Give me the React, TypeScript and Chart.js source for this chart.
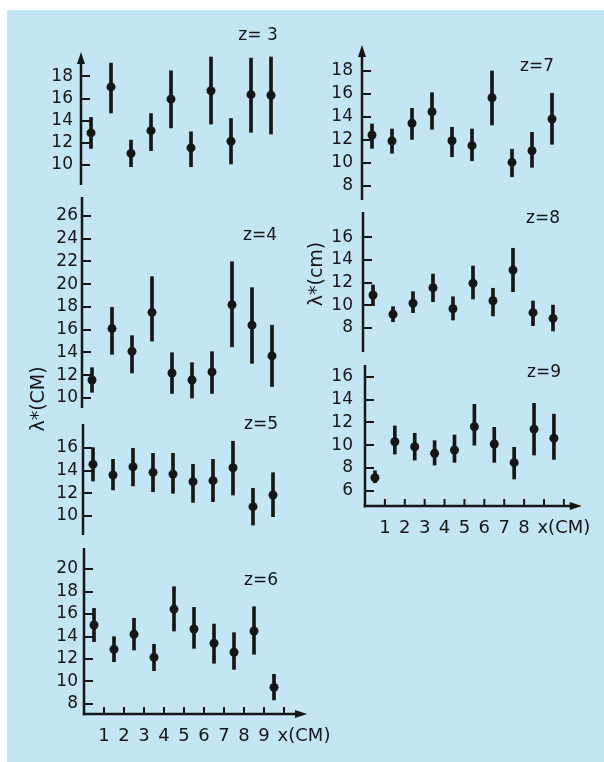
import React, { useEffect, useRef } from 'react';
import { Chart, registerables } from 'chart.js';

Chart.register(...registerables);

const INK = '#161616';
const FONT = '"DejaVu Sans", "Liberation Sans", sans-serif';
const BG = '#c4e5f4';

// x positions of the ten measurement columns (between the x ticks)
const X_POS = [0.5, 1.5, 2.5, 3.5, 4.5, 5.5, 6.5, 7.5, 8.5, 9.5];

// z = 3
const Z3_VAL = [12.9, 17.05, 11.05, 13.1, 15.95, 11.55, 16.7, 12.15, 16.35, 16.3];
const Z3_LO = [11.5, 14.7, 9.85, 11.3, 13.35, 9.85, 13.7, 10.1, 12.95, 12.8];
const Z3_HI = [14.3, 19.2, 12.25, 14.65, 18.5, 13.0, 19.75, 14.2, 19.65, 19.75];
// z = 4
const Z4_VAL = [11.58, 16.1, 14.1, 17.53, 12.2, 11.58, 12.29, 18.2, 16.4, 13.7];
const Z4_LO = [10.5, 13.84, 12.2, 15.0, 10.4, 10.0, 10.4, 14.5, 13.05, 11.0];
const Z4_HI = [12.66, 17.97, 15.48, 20.66, 13.98, 13.1, 14.07, 21.98, 19.7, 16.4];
// z = 5
const Z5_VAL = [14.56, 13.62, 14.35, 13.85, 13.7, 13.03, 13.12, 14.26, 10.82, 11.85];
const Z5_LO = [13.09, 12.3, 12.65, 12.14, 12.0, 11.2, 11.26, 11.85, 9.2, 9.94];
const Z5_HI = [16.03, 15.0, 15.97, 15.53, 15.53, 14.56, 15.0, 16.6, 12.44, 13.82];
// z = 6
const Z6_VAL = [15.02, 12.86, 14.2, 12.15, 16.44, 14.67, 13.4, 12.6, 14.49, 9.48];
const Z6_LO = [13.54, 11.76, 12.8, 10.96, 14.49, 12.95, 11.62, 11.08, 12.42, 8.36];
const Z6_HI = [16.5, 13.98, 15.62, 13.31, 18.43, 16.59, 15.11, 14.34, 16.65, 10.64];
// z = 7
const Z7_VAL = [12.41, 11.89, 13.43, 14.43, 11.91, 11.48, 15.65, 10.03, 11.04, 13.8];
const Z7_LO = [11.25, 10.82, 12.03, 12.9, 10.52, 10.17, 13.28, 8.78, 9.6, 11.6];
const Z7_HI = [13.37, 12.93, 14.73, 16.09, 13.08, 12.93, 17.97, 11.17, 12.64, 16.03];
// z = 8
const Z8_VAL = [10.89, 9.19, 10.16, 11.54, 9.68, 11.93, 10.39, 13.1, 9.33, 8.83];
const Z8_LO = [9.95, 8.53, 9.33, 10.3, 8.68, 10.54, 9.04, 11.19, 8.18, 7.71];
const Z8_HI = [11.78, 9.86, 11.19, 12.75, 10.74, 13.46, 11.49, 15.03, 10.36, 10.0];
// z = 9
const Z9_VAL = [7.14, 10.3, 9.86, 9.28, 9.57, 11.61, 10.1, 8.46, 11.41, 10.6];
const Z9_LO = [6.7, 9.22, 8.69, 8.25, 8.49, 10.0, 8.49, 7.03, 9.13, 8.75];
const Z9_HI = [7.75, 11.68, 11.04, 10.39, 10.89, 13.58, 11.56, 9.81, 13.67, 12.72];

// y tick labels
const Y_TICKS_Z3 = [10, 12, 14, 16, 18];
const Y_TICKS_Z4 = [10, 12, 14, 16, 18, 20, 22, 24, 26];
const Y_TICKS_Z5 = [10, 12, 14, 16];
const Y_TICKS_Z6 = [8, 10, 12, 14, 16, 18, 20];
const Y_TICKS_Z7 = [8, 10, 12, 14, 16, 18];
const Y_TICKS_Z8 = [8, 10, 12, 14, 16];
const Y_TICKS_Z9 = [6, 8, 10, 12, 14, 16];

// x ticks and labels
const X_TICK_MARKS = [1, 2, 3, 4, 5, 6, 7, 8, 9, 10];
const X_LABEL_VALUES_LEFT = [1, 2, 3, 4, 5, 6, 7, 8, 9, 10, 11];
const X_LABELS_LEFT = ['1', '2', '3', '4', '5', '6', '7', '8', '9', '', 'x(CM)'];
const X_LABEL_VALUES_RIGHT = [1, 2, 3, 4, 5, 6, 7, 8, 9, 10];
const X_LABELS_RIGHT = ['1', '2', '3', '4', '5', '6', '7', '8', '', 'x(CM)'];

const TITLE_LEFT = 'λ*(CM)';
const TITLE_RIGHT = 'λ*(cm)';

type PanelSpec = {
  key: string;
  zLabel: string;
  val: number[];
  lo: number[];
  hi: number[];
  yTicks: number[];
  yMin: number;
  yMax: number;
  left: number;
  top: number;
  width: number;
  height: number;
  axisX: number;
  areaTop: number;
  areaBottom: number;
  xMax: number;
  arrowY?: boolean;
  labelPad: number;
  zPos: [number, number];
  xLabelValues?: number[];
  xLabels?: string[];
  title?: { text: string; x: number; y: number };
};

const PANELS: PanelSpec[] = [
  {
    key: 'z3', zLabel: 'z= 3', val: Z3_VAL, lo: Z3_LO, hi: Z3_HI, yTicks: Y_TICKS_Z3,
    yMin: 8.2, yMax: 20.2, left: 0, top: 12, width: 345, height: 205,
    axisX: 81, areaTop: 52, areaBottom: 185, xMax: 12, arrowY: true, labelPad: 8, zPos: [258, 36],
  },
  {
    key: 'z4', zLabel: 'z=4', val: Z4_VAL, lo: Z4_LO, hi: Z4_HI, yTicks: Y_TICKS_Z4,
    yMin: 9.12, yMax: 27.67, left: 0, top: 165, width: 345, height: 285,
    axisX: 82, areaTop: 197, areaBottom: 408, xMax: 12, labelPad: 4, zPos: [260, 236],
    title: { text: TITLE_LEFT, x: 39, y: 399 },
  },
  {
    key: 'z5', zLabel: 'z=5', val: Z5_VAL, lo: Z5_LO, hi: Z5_HI, yTicks: Y_TICKS_Z5,
    yMin: 8.32, yMax: 18.12, left: 0, top: 394, width: 345, height: 170,
    axisX: 83, areaTop: 424, areaBottom: 535, xMax: 12, labelPad: 5, zPos: [261, 425],
  },
  {
    key: 'z6', zLabel: 'z=6', val: Z6_VAL, lo: Z6_LO, hi: Z6_HI, yTicks: Y_TICKS_Z6,
    yMin: 7.11, yMax: 21.87, left: 0, top: 518, width: 345, height: 244,
    axisX: 84, areaTop: 548, areaBottom: 714, xMax: 11.15, labelPad: 6, zPos: [261, 581],
    xLabelValues: X_LABEL_VALUES_LEFT, xLabels: X_LABELS_LEFT,
  },
  {
    key: 'z7', zLabel: 'z=7', val: Z7_VAL, lo: Z7_LO, hi: Z7_HI, yTicks: Y_TICKS_Z7,
    yMin: 6.76, yMax: 20.23, left: 300, top: 12, width: 304, height: 220,
    axisX: 362, areaTop: 45, areaBottom: 200, xMax: 11, arrowY: true, labelPad: 9, zPos: [537, 67],
  },
  {
    key: 'z8', zLabel: 'z=8', val: Z8_VAL, lo: Z8_LO, hi: Z8_HI, yTicks: Y_TICKS_Z8,
    yMin: 5.85, yMax: 18.24, left: 300, top: 180, width: 304, height: 205,
    axisX: 363, areaTop: 212, areaBottom: 352, xMax: 11, labelPad: 10, zPos: [543, 219],
    title: { text: TITLE_RIGHT, x: 317, y: 274 },
  },
  {
    key: 'z9', zLabel: 'z=9', val: Z9_VAL, lo: Z9_LO, hi: Z9_HI, yTicks: Y_TICKS_Z9,
    yMin: 4.66, yMax: 17.03, left: 300, top: 332, width: 304, height: 228,
    axisX: 365, areaTop: 365, areaBottom: 506, xMax: 10.9, labelPad: 12, zPos: [544, 373],
    xLabelValues: X_LABEL_VALUES_RIGHT, xLabels: X_LABELS_RIGHT,
  },
];

const decor = {
  id: 'decor',
  afterDraw(chart: any, _args: any, o: any) {
    const { ctx, chartArea: a, scales } = chart;
    const xs = scales.x;
    const ys = scales.y;
    const ax = xs.getPixelForValue(0);
    ctx.save();
    ctx.strokeStyle = INK;
    ctx.fillStyle = INK;
    // y axis
    ctx.lineWidth = 2.5;
    ctx.beginPath();
    ctx.moveTo(ax, o.hasX ? a.bottom + 1.25 : a.bottom);
    ctx.lineTo(ax, o.arrowY ? a.top + 8 : a.top);
    ctx.stroke();
    if (o.arrowY) {
      ctx.beginPath();
      ctx.moveTo(ax, a.top);
      ctx.lineTo(ax - 4, a.top + 12);
      ctx.lineTo(ax + 4, a.top + 12);
      ctx.closePath();
      ctx.fill();
    }
    ctx.lineWidth = 2;
    for (const v of o.yTicks) {
      const py = Math.round(ys.getPixelForValue(v));
      ctx.beginPath();
      ctx.moveTo(ax, py);
      ctx.lineTo(ax + 9, py);
      ctx.stroke();
    }
    if (o.hasX) {
      ctx.lineWidth = 2.5;
      ctx.beginPath();
      ctx.moveTo(ax - 1.25, a.bottom);
      ctx.lineTo(a.right - 8, a.bottom);
      ctx.stroke();
      ctx.beginPath();
      ctx.moveTo(a.right, a.bottom);
      ctx.lineTo(a.right - 12, a.bottom - 4);
      ctx.lineTo(a.right - 12, a.bottom + 4);
      ctx.closePath();
      ctx.fill();
      ctx.lineWidth = 2;
      for (const v of o.xTicks) {
        const px = xs.getPixelForValue(v);
        ctx.beginPath();
        ctx.moveTo(px, a.bottom);
        ctx.lineTo(px, a.bottom - 7);
        ctx.stroke();
      }
    }
    ctx.font = `17px ${FONT}`;
    ctx.textAlign = 'center';
    ctx.textBaseline = 'middle';
    ctx.fillText(o.zLabel, o.zPos[0] - o.left, o.zPos[1] - o.top);
    if (o.title) {
      ctx.save();
      ctx.translate(o.title.x - o.left, o.title.y - o.top);
      ctx.rotate(-Math.PI / 2);
      ctx.font = `19px ${FONT}`;
      ctx.fillText(o.title.text, 0, 0);
      ctx.restore();
    }
    ctx.restore();
  },
};

function Panel({ p }: { p: PanelSpec }) {
  const ref = useRef<HTMLCanvasElement | null>(null);
  useEffect(() => {
    const canvas = ref.current;
    if (!canvas) return;
    const hasX = !!p.xLabels;
    const padRight = p.left + p.width - (p.axisX + 20 * p.xMax);
    const chart = new Chart(canvas, {
      type: 'bar',
      data: {
        datasets: [
          {
            type: 'bar',
            data: X_POS.map((x, i) => ({ x, y: [p.lo[i], p.hi[i]] })),
            backgroundColor: INK,
            borderWidth: 0,
            barThickness: 3,
            clip: false,
          } as any,
          {
            type: 'scatter',
            data: X_POS.map((x, i) => ({ x, y: p.val[i] })),
            pointRadius: 4.5,
            pointHoverRadius: 4.5,
            backgroundColor: INK,
            borderColor: INK,
            borderWidth: 0,
            clip: false,
          } as any,
        ],
      },
      options: {
        animation: false,
        responsive: true,
        maintainAspectRatio: false,
        events: [],
        layout: {
          padding: {
            left: 0,
            top: p.areaTop - p.top,
            right: padRight,
            bottom: hasX ? 0 : p.top + p.height - p.areaBottom,
          },
        },
        plugins: {
          legend: { display: false },
          tooltip: { enabled: false },
          decor: {
            hasX,
            arrowY: !!p.arrowY,
            yTicks: p.yTicks,
            xTicks: X_TICK_MARKS,
            zLabel: p.zLabel,
            zPos: p.zPos,
            left: p.left,
            top: p.top,
            title: p.title,
          },
        } as any,
        scales: {
          x: {
            type: 'linear',
            min: 0,
            max: p.xMax,
            offset: false,
            display: hasX,
            grid: { display: false, drawTicks: false },
            border: { display: false },
            afterBuildTicks: (s: any) => {
              if (p.xLabelValues) s.ticks = p.xLabelValues.map((v) => ({ value: v }));
            },
            afterFit: (s: any) => {
              s.height = hasX ? p.top + p.height - p.areaBottom : 0;
            },
            ticks: {
              autoSkip: false,
              maxRotation: 0,
              minRotation: 0,
              padding: 12,
              color: INK,
              font: { family: FONT, size: 18 },
              callback: (_v: any, i: number) => (p.xLabels ? p.xLabels[i] : ''),
            },
          },
          y: {
            type: 'linear',
            min: p.yMin,
            max: p.yMax,
            grid: { display: false, drawTicks: false },
            border: { display: false },
            afterBuildTicks: (s: any) => {
              s.ticks = p.yTicks.map((v) => ({ value: v }));
            },
            afterFit: (s: any) => {
              s.width = p.axisX - p.left;
            },
            ticks: {
              autoSkip: false,
              padding: p.labelPad,
              color: INK,
              font: { family: FONT, size: 17 },
              callback: (v: any) => String(v),
            },
          },
        },
      } as any,
      plugins: [decor],
    });
    return () => chart.destroy();
  }, [p]);
  return (
    <div style={{ position: 'absolute', left: p.left, top: p.top, width: p.width, height: p.height }}>
      <canvas ref={ref} />
    </div>
  );
}

export default function App() {
  return (
    <div style={{ position: 'absolute', left: 0, top: 0, width: 604, height: 762, background: '#ffffff', overflow: 'hidden' }}>
      <div style={{ position: 'absolute', left: 7, top: 10, right: 0, bottom: 0, background: BG }} />
      {PANELS.map((p) => (
        <Panel key={p.key} p={p} />
      ))}
    </div>
  );
}
